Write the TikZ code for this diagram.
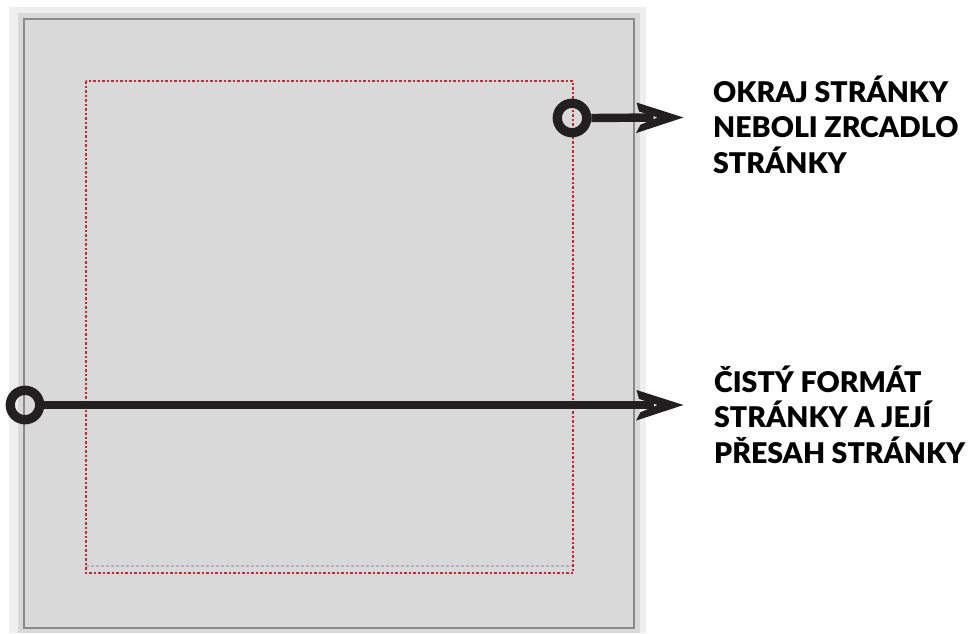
\documentclass[tikz,border=0pt]{standalone}
\usepackage{fontspec}
\setmainfont{Lato}[BoldFont={* Black}]
\definecolor{pagebg}{HTML}{D9D9D9}
\definecolor{outerbg}{HTML}{EFEFEF}
\definecolor{framegray}{HTML}{8A8A8A}
\definecolor{dotred}{HTML}{C42A36}
\definecolor{dotgray}{HTML}{B0B0C8}
\definecolor{ink}{HTML}{231F20}
\tikzset{
  ring/.style={draw=ink, line width=9.3pt, circle, minimum size=29.4pt, inner sep=0pt},
  bar/.style={draw=ink, line width=8.4pt},
  head/.pic={\fill[ink] (0,0) -- (-47,-15) -- (-44.5,-6) -- (-26,0) -- (-43,7.2) -- (-47.5,15.6) -- cycle;},
  label/.style={font=\bfseries\fontsize{28.5}{35.5}\selectfont, text=black, align=left, anchor=base west, inner sep=0pt},
}
\begin{document}
\begin{tikzpicture}[x=1pt,y=-1pt]
\useasboundingbox (0,0) rectangle (978,633);
\fill[white] (0,0) rectangle (978,633);
% outer frame
\fill[outerbg] (9,7) rectangle (646,633);
\fill[pagebg] (18,13) rectangle (640,633);
\draw[framegray, line width=1.2pt, fill=pagebg] (24,19) rectangle (634,628);
% dotted margins
\draw[dotgray, line width=1.1pt, dash pattern=on 3pt off 2pt] (86,566) -- (572,566);
\draw[dotred, line width=1.1pt, dash pattern=on 2.5pt off 2pt] (86,81) rectangle (573,573);
% top pointer
\node[ring] (c1) at (572,118) {};
\coordinate (t1) at (683.5,117.5);
\draw[bar] (c1.east) -- ([xshift=-30pt]t1);
\pic at (t1) {head};
% bottom pointer
\node[ring] (c2) at (25,405) {};
\coordinate (t2) at (683.5,405);
\draw[bar] (c2.east) -- ([xshift=-30pt]t2);
\pic at (t2) {head};
% labels
\node[label] (l1) at (713,173) {OKRAJ STRÁNKY\\NEBOLI ZRCADLO\\STRÁNKY};
\node[label] (l2) at (714,463) {ČISTÝ FORMÁT\\STRÁNKY A JEJÍ\\PŘESAH STRÁNKY};
\end{tikzpicture}
\end{document}
